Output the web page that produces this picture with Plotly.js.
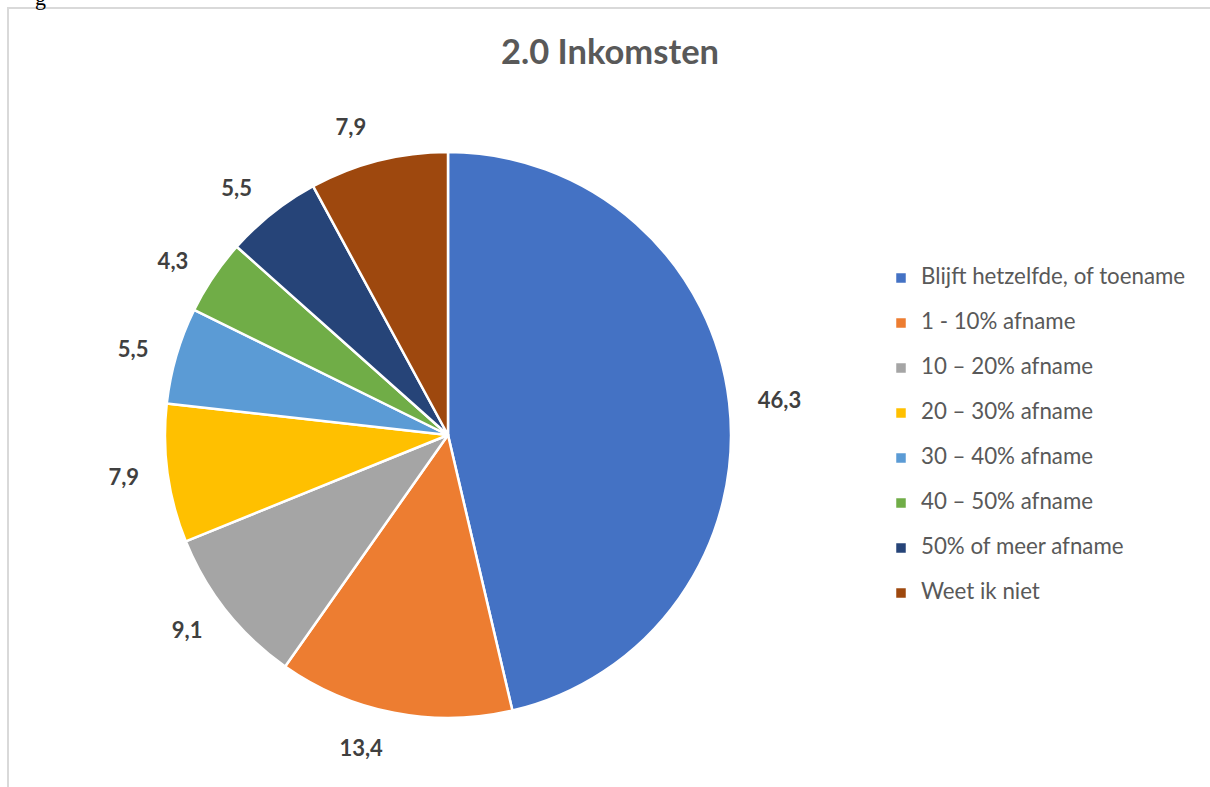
<!DOCTYPE html>
<html>
<head>
<meta charset="utf-8">
<script src="https://cdn.plot.ly/plotly-3.0.1.min.js"></script>
<style>html,body{margin:0;padding:0;background:#fff;}#chart{width:1210px;height:787px;}</style>
</head>
<body>
<div id="chart"></div>
<script>
var chartTitle = "2.0 Inkomsten";
var categories = ["Blijft hetzelfde, of toename", "1 - 10% afname", "10 \u2013 20% afname", "20 \u2013 30% afname", "30 \u2013 40% afname", "40 \u2013 50% afname", "50% of meer afname", "Weet ik niet"];
var values = [46.3, 13.4, 9.1, 7.9, 5.5, 4.3, 5.5, 7.9];
var valueLabels = ["46,3", "13,4", "9,1", "7,9", "5,5", "4,3", "5,5", "7,9"];
var colors = ["#4472C4", "#ED7D31", "#A5A5A5", "#FFC000", "#5B9BD5", "#70AD47", "#264478", "#9E480E"];

var W = 1210, H = 787;
var pieCx = 448, pieCy = 435, pieR = 283;
function px2x(p){ return p / W; }
function py2y(p){ return (H - p) / H; }

var legendNames = categories.map(function(c){ return '<span style="font-size:22.3px">' + c + '</span><br> '; });

var pieMain = {
  type: 'pie',
  labels: legendNames,
  values: values,
  sort: false,
  direction: 'clockwise',
  rotation: 0,
  marker: {colors: colors, line: {color: '#ffffff', width: 2.5}},
  textinfo: 'none',
  hoverinfo: 'skip',
  domain: {x: [px2x(pieCx - pieR), px2x(pieCx + pieR)], y: [py2y(pieCy + pieR), py2y(pieCy - pieR)]},
  showlegend: true
};

var rl = pieR + 22;
var pieLabels = {
  type: 'pie',
  labels: legendNames,
  values: values,
  text: valueLabels,
  sort: false,
  direction: 'clockwise',
  rotation: 0,
  marker: {colors: colors.map(function(){ return 'rgba(0,0,0,0)'; }), line: {width: 0}},
  textinfo: 'text',
  textposition: 'outside',
  outsidetextfont: {family: 'Lato, "Open Sans", sans-serif', size: 22, color: '#404040', weight: 'bold'},
  hoverinfo: 'skip',
  domain: {x: [px2x(pieCx - rl), px2x(pieCx + rl)], y: [py2y(pieCy + rl), py2y(pieCy - rl)]},
  showlegend: false
};

var layout = {
  width: W, height: H,
  margin: {l: 0, r: 0, t: 0, b: 0, pad: 0},
  paper_bgcolor: '#ffffff',
  plot_bgcolor: '#ffffff',
  font: {family: 'Lato, "Open Sans", sans-serif', color: '#595959'},
  title: {
    text: '<b>' + chartTitle + '</b>',
    font: {family: 'Lato, "Open Sans", sans-serif', size: 34.5, color: '#595959'},
    x: 610 / W, xanchor: 'center',
    y: 1 - 52 / H, yanchor: 'middle', yref: 'container'
  },
  showlegend: true,
  legend: {
    x: px2x(881), xanchor: 'left',
    y: py2y(277 - 16), yanchor: 'top',
    font: {family: 'Lato, "Open Sans", sans-serif', size: 16.15, color: '#595959'},
    valign: 'top',
    bgcolor: 'rgba(0,0,0,0)',
    borderwidth: 0
  },
  shapes: [{
    type: 'rect', xref: 'paper', yref: 'paper',
    x0: px2x(8), x1: px2x(1230),
    y0: py2y(800), y1: py2y(8),
    line: {color: '#D9D9D9', width: 2},
    fillcolor: 'rgba(0,0,0,0)',
    layer: 'below'
  }],
  annotations: [{
    text: 'g', xref: 'paper', yref: 'paper',
    x: px2x(40), y: py2y(12), xanchor: 'center', yanchor: 'bottom',
    showarrow: false,
    font: {family: '"Liberation Serif", serif', size: 22, color: '#000000'}
  }]
};

Plotly.newPlot('chart', [pieMain, pieLabels], layout, {displayModeBar: false, staticPlot: true});
</script>
</body>
</html>
